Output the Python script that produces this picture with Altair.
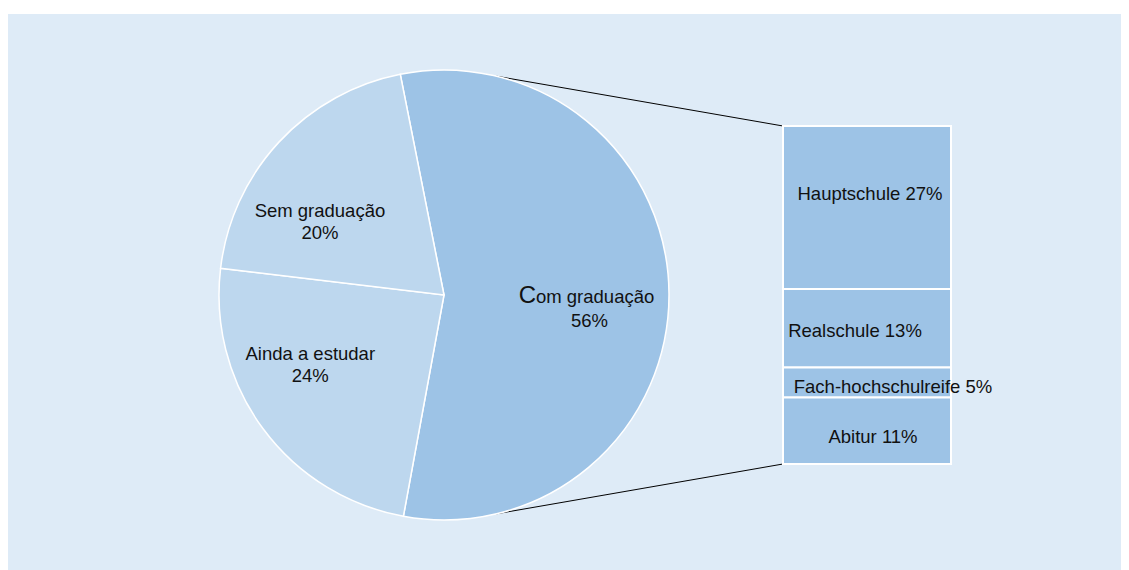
import math
import altair as alt
import pandas as pd

# ---------------- data ----------------
pie_names = ["Com graduação", "Ainda a estudar", "Sem graduação"]
pie_values = [56, 24, 20]
pie_colors = ["#9DC3E6", "#BDD7EE", "#BDD7EE"]

bar_names = ["Hauptschule", "Realschule", "Fach-hochschulreife", "Abitur"]
bar_values = [27, 13, 5, 11]

# ---------------- layout ----------------
W, H = 1113, 556
CX, CY, R = 436, 281, 225
START_DEG = -11.2
LABEL_R = 150
BAR_X0, BAR_X1 = 775, 943
BAR_Y0, BAR_Y1 = 112, 450
CONNECT_DEG = 13.5
FONT = "Liberation Sans"
FS = 18.5
TXT = "#111111"
BG = "#DEEBF7"

# pie table
total = sum(pie_values)
cum = 0
rows = []
for n, v, c in zip(pie_names, pie_values, pie_colors):
    rows.append({"name": n, "value": v, "a0": cum, "a1": cum + v,
                 "mid": cum + v / 2, "color": c,
                 "label": f"{n}\n{v}%"})
    cum += v
pie_df = pd.DataFrame(rows)

start_rad = math.radians(START_DEG) + 2 * math.pi
theta_scale = alt.Scale(domain=[0, total], range=[start_rad, start_rad + 2 * math.pi])

# bar table
btotal = sum(bar_values)
cum = 0
brows = []
for n, v in zip(bar_names, bar_values):
    brows.append({"name": n, "b0": cum, "b1": cum + v, "bmid": cum + v / 2,
                  "label": f"{n} {v}%"})
    cum += v
bar_df = pd.DataFrame(brows)
bar_scale = alt.Scale(domain=[0, btotal], range=[BAR_Y0, BAR_Y1])

dummy = pd.DataFrame({"k": [0]})

# ---------------- layers ----------------
pie = alt.Chart(pie_df).mark_arc(radius=R, stroke="white", strokeWidth=1.5).encode(
    theta=alt.Theta("a0:Q", scale=theta_scale),
    theta2="a1:Q",
    x=alt.value(CX),
    y=alt.value(CY),
    color=alt.Color("color:N", scale=None),
)

def pie_text(name, text_field, dx, dy, size=FS, align="center"):
    return alt.Chart(pie_df).transform_filter(alt.datum.name == name).transform_calculate(
        t=text_field
    ).mark_text(
        radius=LABEL_R, font=FONT, fontSize=size, color=TXT, align=align,
        baseline="alphabetic", lineBreak="\n", lineHeight=22, dx=dx, dy=dy,
    ).encode(
        theta=alt.Theta("mid:Q", scale=theta_scale),
        x=alt.value(CX),
        y=alt.value(CY),
        text="t:N",
    )

labels = [
    pie_text("Sem graduação", "datum.label", -14, 24),
    pie_text("Ainda a estudar", "datum.label", -13, -24),
    pie_text("Com graduação", "'C'", -58, 9, size=24, align="right"),
    pie_text("Com graduação", "substring(datum.name, 1)", -58, 9, align="left"),
    pie_text("Com graduação", "datum.value + '%'", -4.5, 33),
]

bar = alt.Chart(bar_df).mark_rect(color="#9DC3E6", stroke="white", strokeWidth=2).encode(
    x=alt.value(BAR_X0),
    x2=alt.value(BAR_X1),
    y=alt.Y("b0:Q", scale=bar_scale, axis=None),
    y2="b1:Q",
)

bar_nudges = {"Hauptschule": (3, -7.5), "Realschule": (-12, 9),
              "Fach-hochschulreife": (26, 10.5), "Abitur": (6, 12)}
bar_labels = []
for n in bar_names:
    dx, dy = bar_nudges[n]
    bar_labels.append(
        alt.Chart(bar_df).transform_filter(alt.datum.name == n).mark_text(
            font=FONT, fontSize=FS, color=TXT, baseline="alphabetic", dx=dx, dy=dy
        ).encode(
            x=alt.value((BAR_X0 + BAR_X1) / 2),
            y=alt.Y("bmid:Q", scale=bar_scale, axis=None),
            text="label:N",
        )
    )

# connectors from pie edge to bar corners
def edge(deg):
    a = math.radians(deg)
    return CX + R * math.sin(a), CY - R * math.cos(a)

tx, ty = edge(CONNECT_DEG)
bx, by = edge(180 - CONNECT_DEG)
conn_top = alt.Chart(dummy).mark_rule(color="black", strokeWidth=1).encode(
    x=alt.value(tx), y=alt.value(ty), x2=alt.value(BAR_X0), y2=alt.value(BAR_Y0))
conn_bot = alt.Chart(dummy).mark_rule(color="black", strokeWidth=1).encode(
    x=alt.value(bx), y=alt.value(by), x2=alt.value(BAR_X0), y2=alt.value(BAR_Y1))

chart = alt.layer(conn_top, conn_bot, pie, bar, *labels, *bar_labels).properties(
    width=W, height=H, autosize="none",
    padding={"left": 0, "top": 6, "right": 0, "bottom": 0},
    background="white",
).configure_view(stroke=None, fill=BG)

chart.save("out.html", embed_options={"renderer": "svg", "actions": False})
